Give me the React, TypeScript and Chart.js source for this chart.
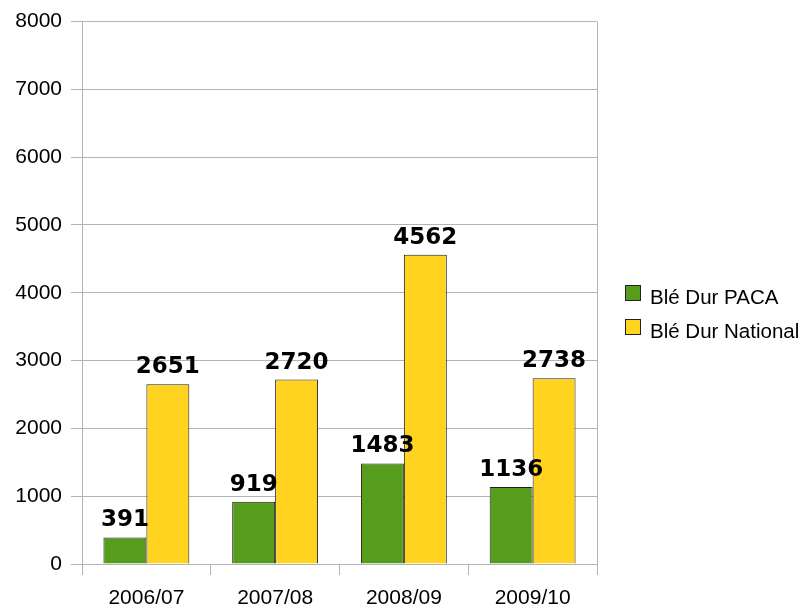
import React, { useEffect, useRef } from "react";
import { Chart, registerables } from "chart.js";

Chart.register(...registerables);

const categories = ["2006/07", "2007/08", "2008/09", "2009/10"];
const pacaValues = [391, 919, 1483, 1136];
const nationalValues = [2651, 2720, 4562, 2738];
const seriesNames = ["Blé Dur PACA", "Blé Dur National"];
const seriesColors = ["#579D1C", "#FFD320"];
const yMin = 0;
const yMax = 8000;
const yStep = 1000;

const GRID = "#b3b3b3";
const TICK_FONT = { family: "'Liberation Sans', Arial, sans-serif", size: 21 };

const valueLabels = {
  id: "valueLabels",
  afterDatasetsDraw(chart: any) {
    const ctx = chart.ctx;
    ctx.save();
    ctx.font = "bold 23px 'DejaVu Sans'";
    ctx.fillStyle = "#000";
    ctx.textAlign = "center";
    ctx.textBaseline = "alphabetic";
    chart.data.datasets.forEach((ds: any, i: number) => {
      const meta = chart.getDatasetMeta(i);
      meta.data.forEach((el: any, j: number) => {
        ctx.fillText(String(ds.data[j]), el.x, el.y - 11);
      });
    });
    ctx.restore();
  },
};

const sideLegend = {
  id: "sideLegend",
  afterDraw(chart: any) {
    const ctx = chart.ctx;
    const x = chart.chartArea.right + 28;
    const top0 = 285;
    const rowH = 34;
    ctx.save();
    ctx.font = "20.5px 'Liberation Sans'";
    ctx.textAlign = "left";
    ctx.textBaseline = "alphabetic";
    chart.data.datasets.forEach((ds: any, i: number) => {
      const y = top0 + i * rowH;
      ctx.fillStyle = ds.backgroundColor;
      ctx.fillRect(x, y, 16, 16);
      ctx.strokeStyle = "#222";
      ctx.lineWidth = 1;
      ctx.strokeRect(x + 0.5, y + 0.5, 15, 15);
      ctx.fillStyle = "#000";
      ctx.fillText(ds.label, x + 25, y + 19);
    });
    ctx.restore();
  },
};

export default function App() {
  const ref = useRef<HTMLCanvasElement | null>(null);
  useEffect(() => {
    if (!ref.current) return;
    const chart = new Chart(ref.current, {
      type: "bar",
      data: {
        labels: categories,
        datasets: [
          {
            label: seriesNames[0],
            data: pacaValues,
            backgroundColor: seriesColors[0],
            borderColor: "#222",
            borderWidth: 1,
            categoryPercentage: 0.667,
            barPercentage: 1,
          },
          {
            label: seriesNames[1],
            data: nationalValues,
            backgroundColor: seriesColors[1],
            borderColor: "#222",
            borderWidth: 1,
            categoryPercentage: 0.667,
            barPercentage: 1,
          },
        ],
      },
      options: {
        responsive: false,
        animation: false,
        layout: { padding: { top: 20, right: 208, left: 0, bottom: 0 } },
        plugins: {
          legend: { display: false },
          tooltip: { enabled: false },
        },
        scales: {
          x: {
            offset: true,
            grid: {
              offset: true,
              drawOnChartArea: true,
              color: (c: any) => (c.type === "scale" ? GRID : "rgba(0,0,0,0)"),
              tickColor: GRID,
              tickLength: 11,
              lineWidth: 1,
            },
            border: { display: true, color: GRID },
            ticks: { color: "#000", font: TICK_FONT, padding: 11, maxRotation: 0 },
            afterFit: (s: any) => {
              s.height = 41;
            },
          },
          y: {
            min: yMin,
            max: yMax,
            grid: { color: GRID, tickLength: 11, lineWidth: 1 },
            border: { display: true, color: GRID },
            ticks: {
              stepSize: yStep,
              color: "#000",
              font: TICK_FONT,
              padding: 9,
              callback: (v: any) => String(v),
            },
            afterFit: (s: any) => {
              s.width = 82;
            },
          },
        },
      },
      plugins: [valueLabels, sideLegend],
    });
    return () => chart.destroy();
  }, []);
  return (
    <div style={{ position: "absolute", left: 0, top: 0, width: 805, height: 605, background: "#fff" }}>
      <canvas ref={ref} width={805} height={605} style={{ display: "block" }} />
    </div>
  );
}
